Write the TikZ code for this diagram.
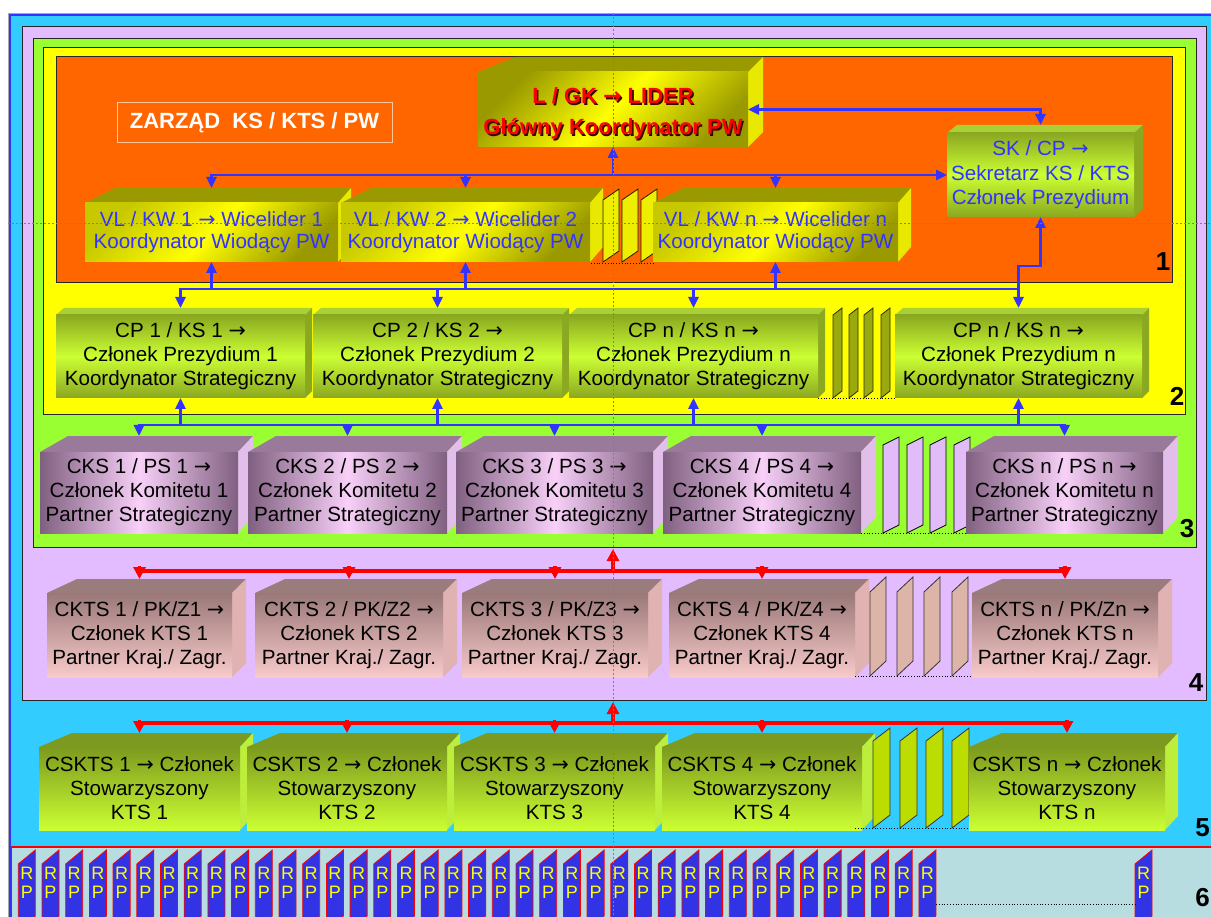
\documentclass[tikz,border=0pt]{standalone}
\usepackage{fontspec}
\setmainfont{Liberation Sans}
\newfontfamily\arrowfont{DejaVu Sans}
\usetikzlibrary{arrows.meta}
\definecolor{cyanbg}{HTML}{33CCFF}
\definecolor{frameblue}{HTML}{3333FF}
\definecolor{lav}{HTML}{E2BCFF}
\definecolor{lgreen}{HTML}{99FF33}
\definecolor{lyel}{HTML}{FFFF00}
\definecolor{lorange}{HTML}{FF6600}
\definecolor{rpbg}{HTML}{B8DDE0}
\definecolor{lblue}{HTML}{3333FF}
\definecolor{rpblue}{HTML}{3333E6}
\definecolor{peach}{HTML}{FFC89A}
\definecolor{shadowc}{HTML}{3A0000}
\definecolor{olv}{HTML}{9A9A00}
\definecolor{olvl}{HTML}{C8C800}
\definecolor{yside}{HTML}{E8E800}
\definecolor{gdark}{HTML}{8AA820}
\definecolor{glight}{HTML}{CCFF33}
\definecolor{gtop}{HTML}{A9D035}
\definecolor{gside}{HTML}{8AA820}
\definecolor{mdark}{HTML}{806080}
\definecolor{mlight}{HTML}{F8D0F8}
\definecolor{mtop}{HTML}{9A7A9A}
\definecolor{mside}{HTML}{E2BEEA}
\definecolor{kdark}{HTML}{9A7878}
\definecolor{klight}{HTML}{F8CACA}
\definecolor{ktop}{HTML}{9A7C7C}
\definecolor{kside}{HTML}{E0B2B2}
\definecolor{cdark}{HTML}{7C9A1E}
\definecolor{clight}{HTML}{CCFF33}
\definecolor{ctop}{HTML}{7C9A20}
\definecolor{cside}{HTML}{BEEE3C}
\definecolor{pyel}{HTML}{EEEE00}
\definecolor{pcp}{HTML}{99AA11}
\definecolor{pcks}{HTML}{E2BCF8}
\definecolor{pckts}{HTML}{DDB4A8}
\definecolor{pcsk}{HTML}{BBDD00}

\tikzset{
  txt/.style={inner sep=0pt, outer sep=0pt, align=center, text=black, font=\fontsize{20.6}{24}\selectfont},
  yel top/.style={fill=olv},
  yel side/.style={fill=yside},
  yel front/.style={txt, top color=olvl, bottom color=olv, middle color=lyel, shading angle=45, text=lblue, font=\fontsize{20.6}{22}\selectfont},
  lead top/.style={fill=olv},
  lead side/.style={fill=yside},
  lead front/.style={txt, top color=olv, bottom color=olv, middle color=lyel, shading angle=45, text=red, font=\bfseries\fontsize{22}{31}\selectfont},
  sk top/.style={fill=gtop},
  sk side/.style={fill=gside},
  sk front/.style={txt, top color=gdark, bottom color=gdark, middle color=glight, text=lblue, font=\fontsize{20.6}{24.5}\selectfont},
  cp top/.style={fill=gtop},
  cp side/.style={fill=gside},
  cp front/.style={txt, top color=gdark, bottom color=gdark, middle color=glight},
  cks top/.style={fill=mtop},
  cks side/.style={fill=mside},
  cks front/.style={txt, left color=mdark, right color=mdark, middle color=mlight},
  ckts top/.style={fill=ktop},
  ckts side/.style={fill=kside},
  ckts front/.style={txt, top color=kdark, bottom color=klight},
  csk top/.style={fill=ctop},
  csk side/.style={fill=cside},
  csk front/.style={txt, top color=cdark, bottom color=clight},
  bl/.style={draw=lblue, line width=2.6pt, line cap=rect},
  bla/.style={bl, -{Triangle[width=10pt,length=11pt]}},
  rl/.style={draw=red, line width=3.4pt, line cap=rect},
  rla/.style={rl, -{Triangle[width=12pt,length=12pt]}},
  layer/.style={draw=black!85, line width=1pt},
  lvl/.style={inner sep=0pt, font=\bfseries\fontsize{26}{26}\selectfont},
  dots/.style={draw=black, line width=0.8pt, dotted},
  guide/.style={draw=gray, line width=0.7pt, dash pattern=on 2pt off 2pt},
  rptab/.style={fill=rpblue, draw=red, line width=0.8pt},
  rptext/.style={inner sep=0pt, align=center, text=lyel, font=\fontsize{18}{19.5}\selectfont},
}

\newcommand{\arr}{{\arrowfont →}}
\newcommand{\drawcube}[7]{%
  \fill[#6 top] (#2,#3) -- (#2+\ba,#3-\bd) -- (#4+\bb,#3-\bd) -- (#4,#3) -- cycle;
  \fill[#6 side] (#4,#3) -- (#4+\bb,#3-\bd) -- (#4+\bb,#5-\bd) -- (#4,#5) -- cycle;
  \node[#6 front, anchor=north west, minimum width={(#4-#2)*1pt}, minimum height={(#5-#3)*1pt}] (#1) at (#2,#3) {#7};
}
\newcommand{\drawslab}[6]{%
  \filldraw[#6] (#1,#3) -- (#1,#2+#5) -- (#1+#4,#2) -- (#1+#4,#3-#5) -- cycle;
}
\newcommand{\shtext}[1]{\makebox[0pt][l]{\hspace{1.6pt}\raisebox{-1.6pt}{\textcolor{shadowc}{#1}}}#1}

\begin{document}
\begin{tikzpicture}[x=1pt,y=-1pt]
\useasboundingbox (0,0) rectangle (1211,917);
\fill[white] (0,0) rectangle (1211,917);
% outer frame (level 5)
\filldraw[fill=cyanbg, draw=frameblue, line width=3pt] (9.5,14.5) rectangle (1240,940);
\draw[gray!70, line width=0.8pt] (8,940) -- (8,13) -- (1240,13);
% level 6 strip
\filldraw[fill=rpbg, draw=red, line width=1.5pt] (11.5,847) rectangle (1240,940);
% layers
\filldraw[layer, fill=lav] (22,27) rectangle (1206,700);
\filldraw[layer, fill=lgreen] (33,39) rectangle (1196,547);
\filldraw[layer, fill=lyel] (43,48) rectangle (1185,415);
\filldraw[layer, fill=lorange] (56,57) rectangle (1172,283);

\node[draw=peach, line width=1pt, minimum width=275pt, minimum height=40pt, inner sep=0pt, text=white, font=\bfseries\fontsize{22}{26}\selectfont] (zarzad) at (254.5,123) {ZARZĄD\ \ KS / KTS / PW};

% leader
\def\ba{37}\def\bb{15}\def\bd{15}
\drawcube{lgk}{478}{72}{748}{147}{lead}{\rule{0pt}{26pt}\shtext{L / GK \arr\ LIDER}\\\shtext{Główny Koordynator PW}}
% vice leaders
\def\ba{30}\def\bb{13}\def\bd{15}
\drawcube{vl1}{85}{203}{338}{262}{yel}{VL / KW 1 \arr\ Wicelider 1\\Koordynator Wiodący PW}
\drawcube{vl2}{341}{203}{590}{262}{yel}{VL / KW 2 \arr\ Wicelider 2\\Koordynator Wiodący PW}
\foreach \xx in {603,622,641} {\drawslab{\xx}{189}{262}{16}{11}{fill=pyel, draw=black!80!olv, line width=0.8pt}}
\draw[dots] (591,263) -- (655,263);
\drawcube{vln}{653}{203}{898}{262}{yel}{VL / KW n \arr\ Wicelider n\\Koordynator Wiodący PW}
% secretary
\def\ba{10}\def\bb{9}\def\bd{8}
\drawcube{sk}{947}{133}{1134}{217}{sk}{SK / CP \arr\\Sekretarz KS / KTS\\Członek Prezydium}
% CP row
\def\ba{8}\def\bb{7}\def\bd{7}
\drawcube{cp1}{56}{315}{305}{398}{cp}{CP 1 / KS 1 \arr\\Członek Prezydium 1\\Koordynator Strategiczny}
\drawcube{cp2}{313}{315}{562}{398}{cp}{CP 2 / KS 2 \arr\\Członek Prezydium 2\\Koordynator Strategiczny}
\drawcube{cp3}{569}{315}{818}{398}{cp}{CP n / KS n \arr\\Członek Prezydium n\\Koordynator Strategiczny}
\foreach \xx in {833,849,864,881} {\drawslab{\xx}{308}{398}{9}{7}{fill=pcp, draw=black!70!olv, line width=0.8pt}}
\draw[dots] (818,398) -- (895,398);
\drawcube{cpn}{895}{315}{1142}{398}{cp}{CP n / KS n \arr\\Członek Prezydium n\\Koordynator Strategiczny}
% CKS row
\def\ba{28}\def\bb{15}\def\bd{16}
\drawcube{cks1}{40}{452}{238}{533}{cks}{CKS 1 / PS 1 \arr\\Członek Komitetu 1\\Partner Strategiczny}
\drawcube{cks2}{248}{452}{447}{533}{cks}{CKS 2 / PS 2 \arr\\Członek Komitetu 2\\Partner Strategiczny}
\drawcube{cks3}{456}{452}{653}{533}{cks}{CKS 3 / PS 3 \arr\\Członek Komitetu 3\\Partner Strategiczny}
\drawcube{cks4}{663}{452}{861}{533}{cks}{CKS 4 / PS 4 \arr\\Członek Komitetu 4\\Partner Strategiczny}
\foreach \xx in {883,907,930,954} {\drawslab{\xx}{437}{533}{16}{8}{fill=pcks, draw=black, line width=0.8pt}}
\draw[dots] (861,533) -- (966,533);
\drawcube{cksn}{966}{452}{1163}{533}{cks}{CKS n / PS n \arr\\Członek Komitetu n\\Partner Strategiczny}
% CKTS row
\def\ba{30}\def\bb{14}\def\bd{14}
\drawcube{ckts1}{47}{593}{232}{677}{ckts}{CKTS 1 / PK/Z1 \arr\\Członek KTS 1\\Partner Kraj./ Zagr.}
\drawcube{ckts2}{255}{593}{443}{677}{ckts}{CKTS 2 / PK/Z2 \arr\\Członek KTS 2\\Partner Kraj./ Zagr.}
\drawcube{ckts3}{462}{593}{648}{677}{ckts}{CKTS 3 / PK/Z3 \arr\\Członek KTS 3\\Partner Kraj./ Zagr.}
\drawcube{ckts4}{669}{593}{855}{677}{ckts}{CKTS 4 / PK/Z4 \arr\\Członek KTS 4\\Partner Kraj./ Zagr.}
\foreach \xx in {870,897,924,952} {\drawslab{\xx}{577}{676}{16}{15}{fill=pckts, draw=black!80, line width=0.8pt}}
\draw[dots] (855,676) -- (972,676);
\drawcube{cktsn}{972}{593}{1158}{677}{ckts}{CKTS n / PK/Zn \arr\\Członek KTS n\\Partner Kraj./ Zagr.}
% CSKTS row
\def\ba{33}\def\bb{13}\def\bd{14}
\drawcube{csk1}{39}{747}{240}{830}{csk}{CSKTS 1 \arr\ Członek\\Stowarzyszony\\KTS 1}
\drawcube{csk2}{247}{747}{447}{830}{csk}{CSKTS 2 \arr\ Członek\\Stowarzyszony\\KTS 2}
\drawcube{csk3}{454}{747}{655}{830}{csk}{CSKTS 3 \arr\ Członek\\Stowarzyszony\\KTS 3}
\drawcube{csk4}{662}{747}{862}{830}{csk}{CSKTS 4 \arr\ Członek\\Stowarzyszony\\KTS 4}
\foreach \xx in {873,900,926,952} {\drawslab{\xx}{728}{828}{17}{13}{fill=pcsk, draw=black!80, line width=0.8pt}}
\draw[dots] (855,828) -- (972,828);
\drawcube{cskn}{969}{747}{1165}{830}{csk}{CSKTS n \arr\ Członek\\Stowarzyszony\\KTS n}

% coordinates
\coordinate (busB) at (0,289);
\coordinate (busC) at (0,425);
\coordinate (busD) at (0,571);
\coordinate (busE) at (0,723);
\coordinate (jog) at (0,266);
\coordinate (l3b) at (613,549);
\coordinate (l4b) at (613,702);

% blue connectors
\draw[bl, {Triangle[width=10pt,length=11pt]}-{Triangle[width=10pt,length=11pt]}] (lgk.east) -| ([yshift=8pt]sk.north);
\draw[bla] (vl1.north |- sk.west) -- (sk.west);
\foreach \nm in {vl1,vl2,vln} {\draw[bla] (\nm.north |- sk.west) -- ([yshift=15pt]\nm.north);}
\draw[bla] (lgk.south |- sk.west) -- (lgk.south);
\draw[bl] (cp1.north |- busB) -- (cpn.north |- busB);
\foreach \nm in {vl1,vl2,vln} {\draw[bla] (\nm.south |- busB) -- (\nm.south);}
\foreach \nm in {cp1,cp2,cp3,cpn} {\draw[bla] (\nm.north |- busB) -- ([yshift=7pt]\nm.north);}
\draw[bla] (cpn.north |- busB) -- (cpn.north |- jog) -| (sk.south);
\draw[bl] (cks1.north |- busC) -- (cksn.north |- busC);
\foreach \nm in {cp1,cp2,cp3,cpn} {\draw[bla] (\nm.south |- busC) -- (\nm.south);}
\foreach \nm in {cks1,cks2,cks3,cks4,cksn} {\draw[bla] (\nm.north |- busC) -- ([yshift=16pt]\nm.north);}
% red connectors
\draw[rl] (ckts1.north |- busD) -- (cktsn.north |- busD);
\draw[rla] (l3b |- busD) -- (l3b);
\foreach \nm in {ckts1,ckts2,ckts3,ckts4,cktsn} {\draw[rla] (\nm.north |- busD) -- ([yshift=14pt]\nm.north);}
\draw[rl] (csk1.north |- busE) -- (cskn.north |- busE);
\draw[rla] (l4b |- busE) -- (l4b);
\foreach \nm in {csk1,csk2,csk3,csk4,cskn} {\draw[rla] (\nm.north |- busE) -- ([yshift=14pt]\nm.north);}

% level numbers
\node[lvl] (n1) at (1163,262) {1};
\node[lvl] (n2) at (1177,396) {2};
\node[lvl] (n3) at (1187,529) {3};
\node[lvl] (n4) at (1196,683) {4};
\node[lvl, anchor=east] (n5) at (1210,828) {5};
\node[lvl, anchor=east] (n6) at (1210,898) {6};

% RP tabs
\foreach \i in {0,...,38} {
  \pgfmathsetmacro\xx{18.3+23.7*\i}
  \drawslab{\xx}{850}{930}{17}{14}{rptab}
  \node[rptext] (rp\i) at (\xx+8.5,883) {R\\P};
}
\drawslab{1135}{850}{930}{17}{14}{rptab}
\node[rptext] (rpn) at (1143.5,883) {R\\P};
\draw[dots] (936,904) -- (1135,904);

% guide lines
\draw[guide] (613,13) -- (613,917);
\draw[guide] (8,223) -- (1211,223);
\end{tikzpicture}
\end{document}
